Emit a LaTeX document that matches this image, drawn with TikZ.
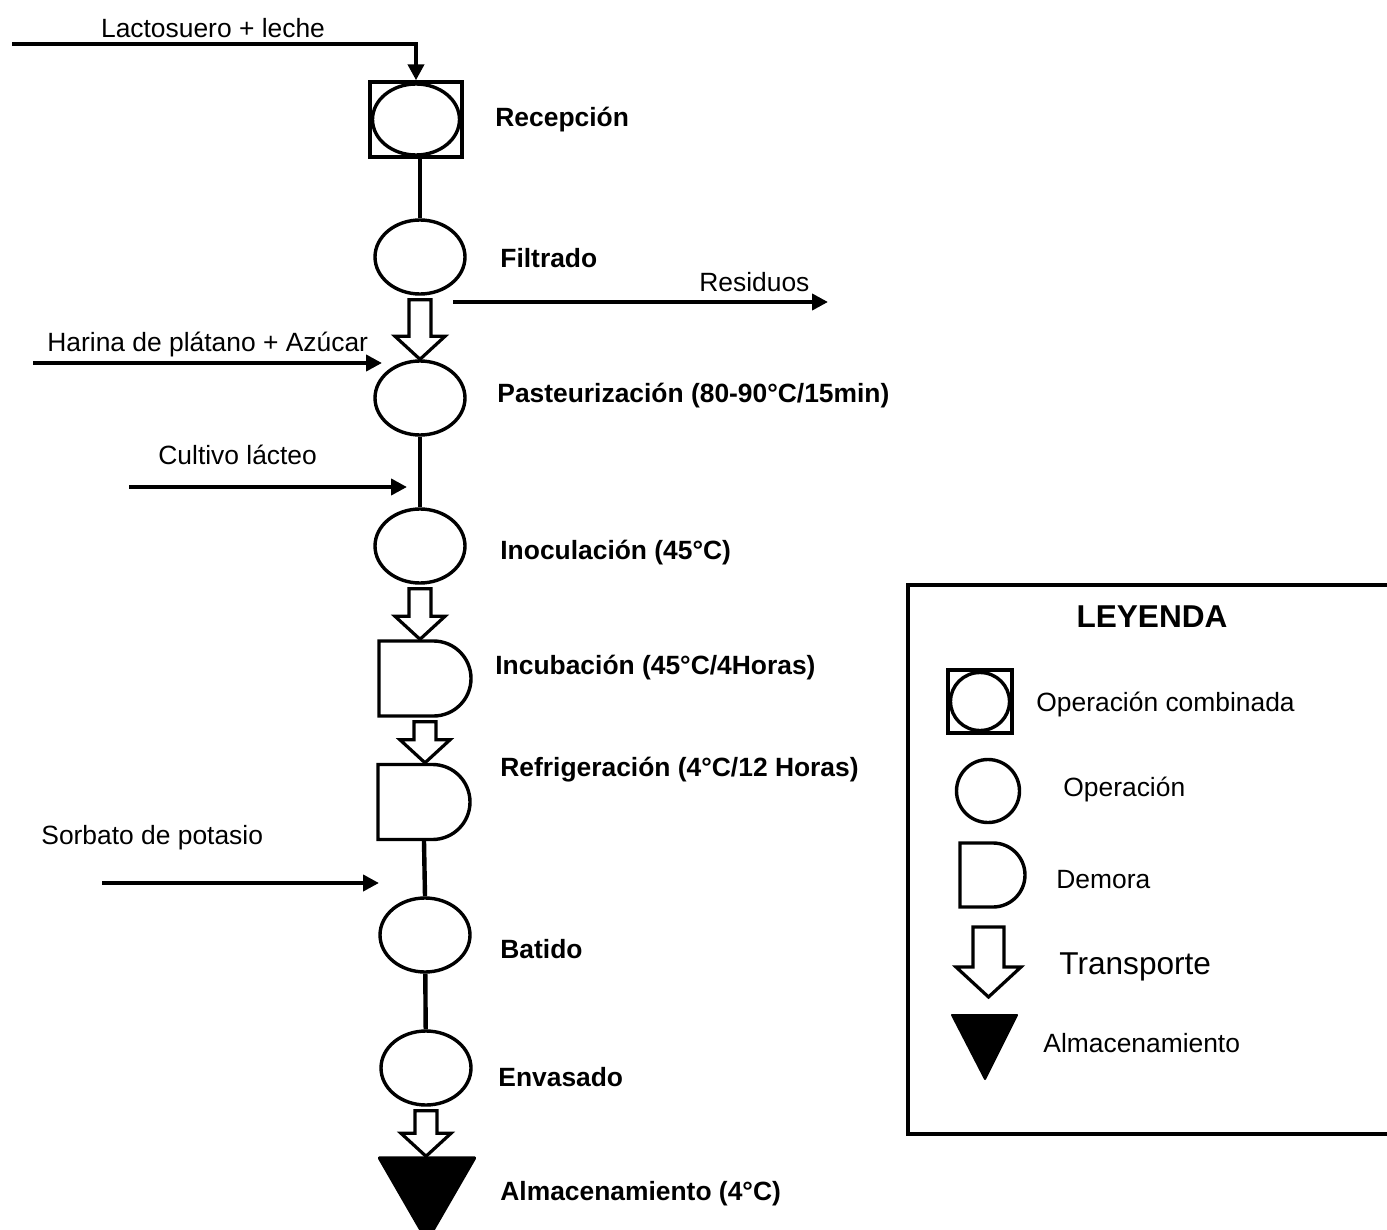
\documentclass[tikz,border=0pt]{standalone}
\usepackage{fontspec}
\setmainfont{Liberation Sans}
\usetikzlibrary{shapes.geometric}
\usetikzlibrary{shapes.misc}
\usetikzlibrary{arrows.meta}
\usetikzlibrary{calc}
\tikzstyle{simb}=[draw, line width=1.7pt, inner sep=0pt]
\tikzstyle{oper}=[simb, ellipse, minimum width=45pt, minimum height=37pt]
\tikzstyle{comb}=[simb, rectangle, minimum width=46pt, minimum height=37.5pt]
\tikzstyle{demora}=[simb, rounded rectangle, rounded rectangle left arc=none, minimum width=46pt, minimum height=37.5pt]
\tikzstyle{almac}=[simb, fill=black, regular polygon, regular polygon sides=3, shape border rotate=180, minimum size=54.8pt, line join=round]
\tikzstyle{linea}=[line width=2.2pt]
\tikzstyle{flecha}=[line width=2.2pt, -{Triangle[length=8pt, width=8pt]}]
\tikzstyle{transp}=[line width=1.6pt, fill=white]
\tikzstyle{etiq}=[anchor=west, inner sep=0pt, font=\fontsize{13.2pt}{15pt}\selectfont\bfseries]
\tikzstyle{texto}=[anchor=west, inner sep=0pt, font=\fontsize{13.2pt}{15pt}\selectfont]
\newcommand{\transporte}[2]{%
  \draw[transp] let \p1=(#1.south), \p2=(#2.north) in
    (\x1-5.5pt,\y1-2pt) -- (\x1-5.5pt,\y2+11.5pt) -- (\x1-12.5pt,\y2+11.5pt) -- (\x1,\y2)
    -- (\x1+12.5pt,\y2+11.5pt) -- (\x1+5.5pt,\y2+11.5pt) -- (\x1+5.5pt,\y1-2pt) -- cycle;}

\begin{document}
\begin{tikzpicture}[x=0.5pt, y=-0.5pt]
        \useasboundingbox (0,0) rectangle (1387,1230);
        % proceso
        \node[comb] (recepcion) at (416,119.5) {};
        \node[oper, minimum width=43.5pt, minimum height=35.5pt] (recepcionop) at (416,119.5) {};
        \node[oper] (filtrado) at (420,257) {};
        \node[oper] (pasteur) at (420,398) {};
        \node[oper] (inoc) at (420,546) {};
        \node[demora] (incub) at (425,678.5) {};
        \node[demora] (refrig) at (424,802) {};
        \node[oper] (batido) at (425,935) {};
        \node[oper] (envasado) at (426,1068) {};
        \node[almac] (almac) at (427,1185.4) {};
        \draw[linea] (recepcion.south -| filtrado.north) -- (filtrado.north);
        \draw[linea] (pasteur) -- (inoc);
        \draw[linea] (refrig.south) -- (batido.north);
        \draw[linea] (batido) -- (envasado);
        \transporte{filtrado}{pasteur}
        \transporte{inoc}{incub}
        \transporte{incub}{refrig}
        \transporte{envasado}{almac}
        % etiquetas
        \node[etiq] (lrecepcion) at (495,120) {Recepción};
        \node[etiq] (lfiltrado) at (500,258) {Filtrado};
        \node[etiq] (lpasteur) at (497,396) {Pasteurización (80-90°C/15min)};
        \node[etiq] (linoc) at (500,553) {Inoculación (45°C)};
        \node[etiq] (lincub) at (495,668) {Incubación (45°C/4Horas)};
        \node[etiq] (lrefrig) at (500,770) {Refrigeración (4°C/12 Horas)};
        \node[etiq] (lbatido) at (500,949) {Batido};
        \node[etiq] (lenvasado) at (498,1077) {Envasado};
        \node[etiq] (lalmac) at (500,1194) {Almacenamiento (4°C)};
        % entradas y salidas
        \coordinate (lacto) at (12,44);
        \draw[flecha] (lacto) -| (recepcion.north);
        \node[texto, anchor=center] (tlacto) at (213,28) {Lactosuero + leche};
        \coordinate (res0) at (453,302);
        \coordinate (res1) at (828,302);
        \draw[flecha] (res0) -- (res1);
        \node[texto] (tres) at (699,282) {Residuos};
        \coordinate (har0) at (33,363);
        \coordinate (har1) at (382,363);
        \draw[flecha] (har0) -- (har1);
        \node[texto] (thar) at (47,345) {Harina de plátano + Azúcar};
        \coordinate (cul0) at (129,487);
        \coordinate (cul1) at (407,487);
        \draw[flecha] (cul0) -- (cul1);
        \node[texto] (tcul) at (158,455) {Cultivo lácteo};
        \coordinate (sor0) at (102,883);
        \coordinate (sor1) at (379,883);
        \draw[flecha] (sor0) -- (sor1);
        \node[texto] (tsor) at (41,838) {Sorbato de potasio};
        % leyenda
        \draw[linea] (1392,585) -| (908,1134) -- (1392,1134);
        \node[font=\fontsize{15.8pt}{18pt}\selectfont\bfseries] (tley) at (1152,617) {LEYENDA};
        \node[comb, minimum width=32pt, minimum height=31.5pt] (lcomb) at (980,701.5) {};
        \node[oper, minimum width=29.5pt, minimum height=29pt] (lcombop) at (980,701.5) {};
        \node[texto] (tcomb) at (1036,705) {Operación combinada};
        \node[oper, minimum width=31.5pt, minimum height=31.5pt] (lop) at (988,791) {};
        \node[texto] (top) at (1063,790) {Operación};
        \node[demora, minimum width=32.5pt, minimum height=32pt] (ldem) at (992.5,875) {};
        \node[texto] (tdem) at (1056,880) {Demora};
        \draw[transp] (973,927) -- (973,967) -- (956,967) -- (988.5,997) -- (1021,967) -- (1004,967) -- (1004,927) -- cycle;
        \node[texto, font=\fontsize{15.8pt}{18pt}\selectfont] (ttransp) at (1059,967) {Transporte};
        \filldraw[line width=1pt, line join=round] (952,1015) -- (1017,1015) -- (985,1079) -- cycle;
        \node[texto] (talmac) at (1043,1043) {Almacenamiento};
    \end{tikzpicture}
\end{document}
